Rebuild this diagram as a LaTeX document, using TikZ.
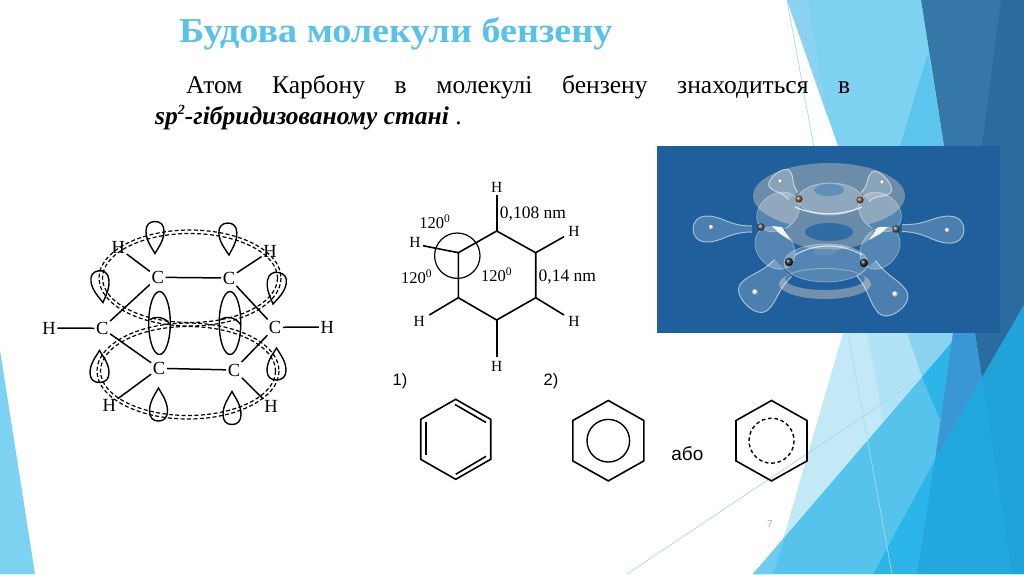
\documentclass[tikz,border=0pt]{standalone}
\usepackage{fontspec}
\setmainfont{Liberation Serif}
\newfontfamily\sansf{Liberation Sans}
\newfontfamily\titlef[FakeStretch=1.09]{Liberation Serif}
\usetikzlibrary{calc}
\definecolor{ttl}{HTML}{5CC1E8}
\definecolor{lightA}{HTML}{7DD2F2}
\definecolor{lightB}{HTML}{8AD2F0}
\definecolor{paleA}{HTML}{C3E9F7}
\definecolor{paleB}{HTML}{B2E2F5}
\definecolor{midA}{HTML}{55C3EC}
\definecolor{midB}{HTML}{2BB5E8}
\definecolor{deepA}{HTML}{22A7DF}
\definecolor{deepB}{HTML}{1D9CCE}
\definecolor{darkA}{HTML}{3578A8}
\definecolor{darkB}{HTML}{2A6C9F}
\definecolor{stripe}{HTML}{3A96D4}
\definecolor{imgbg}{HTML}{1F5F9C}
\definecolor{hairline}{HTML}{A5DCEB}
\definecolor{beige}{HTML}{D8CDBE}
% balloon lobe: base centre (#2,#3), axis angle #4 on the screen, length #5, half width #6, neck half width #7
\newcommand{\balloon}[7][]{%
  \path[#1,shift={(#2,#3)},rotate={-(#4)}]
    (0,#7) .. controls (.4*#5,#7) and (.5*#5,#6) .. (.76*#5,#6)
    .. controls (.92*#5,#6) and (#5,.55*#6) .. (#5,0)
    .. controls (#5,-.55*#6) and (.92*#5,-#6) .. (.76*#5,-#6)
    .. controls (.5*#5,-#6) and (.4*#5,-#7) .. (0,-#7);}
% egg-shaped lobe
\newcommand{\eggdrop}[6][]{%
  \path[#1,shift={(#2,#3)},rotate={-(#4)}]
    (0,0) .. controls (.22*#5,.45*#6) and (.42*#5,#6) .. (.7*#5,#6)
    .. controls (.9*#5,#6) and (#5,.6*#6) .. (#5,0)
    .. controls (#5,-.6*#6) and (.9*#5,-#6) .. (.7*#5,-#6)
    .. controls (.42*#5,-#6) and (.22*#5,-.45*#6) .. (0,0) -- cycle;}
\tikzset{
  bond/.style={line width=1.5pt,black},
  atom/.style={font=\fontsize{18.5}{18.5}\selectfont,inner sep=1.5pt,text=black},
  hlab/.style={font=\fontsize{15.5}{15.5}\selectfont,inner sep=0pt,text=black},
  lab/.style={font=\fontsize{17.5}{17.5}\selectfont,inner sep=0pt,text=black},
  anglab/.style={font=\fontsize{16.5}{16.5}\selectfont,inner sep=0pt,text=black},
  ring/.style={line width=1.2pt,dash pattern=on 4pt off 2.4pt},
  lobe/.style={draw=black,line width=1.4pt},
  hexline/.style={line width=1.6pt,black,line join=miter},
  orb/.style={fill=white,fill opacity=.2,draw=white,draw opacity=.55,line width=1pt},
  ballnode/.style={circle,minimum size=#1,inner sep=0pt},
  sanslab/.style={font=\sansf\fontsize{16.5}{16.5}\selectfont,inner sep=0pt},
}
\begin{document}
\begin{tikzpicture}[x=1pt,y=-1pt]
\useasboundingbox (0,0) rectangle (1024,574);
\fill[white] (0,0) rectangle (1024,574);
% ---------- background ----------
\fill[lightA] (0,350) -- (35,574) -- (0,574) -- cycle;
\fill[lightA] (787,0) -- (921,0) -- (944,146) -- (838,146) -- cycle;
\fill[lightB] (787,0) -- (808,0) -- (827,115) -- cycle;
\fill[midA!85!lightA] (928,53) -- (944,146) -- (900,146) -- cycle;
\fill[darkA] (921,0) -- (1024,0) -- (1024,333) -- (944,333) -- (944,146) -- cycle;
\fill[darkB] (1001,0) -- (1024,0) -- (1024,333) -- (975,333) -- (982,146) -- cycle;
\fill[paleA] (843,333) -- (953,333) -- (953,342) -- (753,574) -- (773,574) -- cycle;
\fill[paleB] (867,333) -- (907,333) -- (922,377) -- (883,420) -- cycle;
\fill[lightB] (907,333) -- (953,333) -- (952,342) -- (922,377) -- cycle;
\fill[midA] (753,574) -- (952,342) -- (953,333) -- (975,333) -- (982,378) -- (873,574) -- cycle;
\fill[lightA!60!midA] (753,574) -- (785,537) -- (773,574) -- cycle;
\fill[midB] (922,377) -- (952,342) -- (953,333) -- (945,400) -- (940,420) -- cycle;
\fill[stripe] (953,333) -- (975,333) -- (982,378) -- (935,460) -- cycle;
\fill[darkB] (975,333) -- (1008,333) -- (982,378) -- cycle;
\fill[midB] (873,574) -- (935,460) -- (982,378) -- (1008,333) -- (1024,305) -- (1024,574) -- cycle;
\fill[deepA] (917,574) -- (935,460) -- (982,378) -- (1012,574) -- cycle;
\fill[deepA!65!deepB] (982,378) -- (1024,305) -- (1024,574) -- (1012,574) -- cycle;
\draw[hairline,line width=.7pt] (787,0) -- (892,574);
\draw[hairline,line width=.7pt] (627,574) -- (922,377);
% ---------- image ----------
\fill[imgbg] (657,146) rectangle (1000,333);
\begin{scope}
\clip (657,146) rectangle (1000,333);
% outer pi clouds
\fill[beige,opacity=.42] (829,196) ellipse (76 and 33);
\fill[beige,opacity=.45,even odd rule] (825,284) ellipse (46 and 15) (825,279) ellipse (40 and 11);
% inner ring
\fill[imgbg!60!beige] (829,232) ellipse (44 and 18);
\fill[imgbg!92!white] (829,232) ellipse (24 and 9);
% six C-C lobes
\foreach \x/\y/\a/\b/\r in {830/199/32/16/0,826/263/42/19/0,778/212/23/18/36,880/212/23/18/-36,775/248/23/18/-51,880/248/23/18/51}
  \path[fill=white,fill opacity=.24,draw=white,draw opacity=.35,line width=.8pt,rotate around={\r:(\x,\y)}] (\x,\y) ellipse (\a pt and \b pt);
\fill[imgbg!70!white] (829,190) ellipse (15 and 6);
\fill[imgbg!70!white] (825,252) ellipse (12 and 3);
\draw[white,opacity=.75,line width=1.3pt] (795,207) .. controls (815,216) and (842,216) .. (862,207);
\draw[white,opacity=.65,line width=1.2pt] (795,255) .. controls (815,243) and (842,243) .. (862,255);
\fill[white,opacity=.9] (772,226) -- (782,227) -- (790,240) -- (780,234) -- cycle;
\fill[white,opacity=.9] (888,227) -- (878,227) -- (869,240) -- (880,234) -- cycle;
% H lobes
\balloon[orb]{793}{196}{232}{28}{13}{6}
\balloon[orb]{865}{197}{-42}{28}{14}{6}
\balloon[orb]{752}{229}{180}{59}{13}{3}
\balloon[orb]{902}{228}{2}{62}{13.5}{3.5}
\balloon[orb]{783}{268}{135}{52}{19}{12}
\balloon[orb]{866}{268}{52}{54}{18}{12}
% atoms
\foreach \n/\x/\y/\r in {a1/780/181/2.4,a2/882/182/2.4,a3/711/227/2.6,a4/947/230/2.6,a5/755/292/3.2,a6/895/294/3.2}
  \node[ballnode=2*\r pt,shade,ball color=white] (\n) at (\x,\y) {};
\foreach \n/\x/\y/\r/\c in {b1/799/199/3.6/brown!70!black,b2/860/200/3.6/brown!70!black,b3/761/227/3.8/black!65,b4/896/229/3.8/black!65,b5/789/262/4.2/black!85,b6/864/263/4.2/black!85}
  \node[ballnode=2*\r pt,shade,ball color=\c] (\n) at (\x,\y) {};
\end{scope}
% ---------- title and text ----------
\node[inner sep=0pt,anchor=base west,text=ttl,font=\titlef\fontsize{35}{35}\selectfont\bfseries] (title) at (179,42) {Будова молекули бензену};
\node[inner sep=0pt,anchor=base west,font=\fontsize{25.5}{25.5}\selectfont] (line1) at (186,93) {\makebox[664pt][s]{Атом\hfill Карбону\hfill в\hfill молекулі\hfill бензену\hfill знаходиться\hfill в}};
\node[inner sep=0pt,anchor=base west,font=\fontsize{25.5}{25.5}\selectfont\bfseries\itshape] (line2) at (155,124) {sp\raisebox{9.5pt}{\fontsize{14}{14}\selectfont 2}-гібридизованому стані {\normalfont .}};
% ---------- left molecule ----------
\foreach \c/\r in {190/278,188/371}{
  \draw[ring] (\c,\r) ellipse (91 and 48);
  \draw[ring] (\c,\r) ellipse (87.5 and 44.5);
}
% lobes
\eggdrop[lobe]{155}{253.5}{-90}{32}{9}
\eggdrop[lobe]{229}{255}{-93}{32}{9}
\eggdrop[lobe]{103}{302.5}{-98}{32}{9}
\eggdrop[lobe]{273}{304}{-80}{32}{9.5}
\eggdrop[lobe]{158.5}{388}{90}{33}{9}
\eggdrop[lobe]{232}{391.5}{90}{33}{9}
\eggdrop[lobe]{99.5}{350.5}{90}{32}{9.5}
\eggdrop[lobe]{276.5}{348}{90}{32}{9.5}
\draw[lobe] (159.5,323) ellipse (10.8 and 31.5);
\draw[lobe] (230,323) ellipse (10.8 and 31.5);
\draw[lobe] (149.5,320) .. controls (155,316) and (165,316) .. (170,325);
\draw[lobe] (220,320) .. controls (225,316) and (235,316) .. (241,325);
\node[atom] (c1) at (157.7,277.3) {C};
\node[atom] (c2) at (229,278) {C};
\node[atom] (c3) at (275,327.3) {C};
\node[atom] (c4) at (234,370) {C};
\node[atom] (c5) at (159,368.3) {C};
\node[atom] (c6) at (102.3,328.3) {C};
\node[atom] (h1) at (118.3,247.7) {H};
\node[atom] (h2) at (270,251) {H};
\node[atom] (h3) at (327.3,327) {H};
\node[atom] (h4) at (271,406.7) {H};
\node[atom] (h5) at (109.3,405) {H};
\node[atom] (h6) at (49,328) {H};
\draw[bond] (c1) -- (c2);
\draw[bond] (c2) -- (c3);
\draw[bond] (c3) -- (c4);
\draw[bond] (c4) -- (c5);
\draw[bond] (c5) -- (c6);
\draw[bond] (c6) -- (c1);
\foreach \a/\b in {c1/h1,c2/h2,c3/h3,c4/h4,c5/h5,c6/h6} \draw[bond] (\a) -- (\b);
% ---------- hexagon with dimensions ----------
\foreach \n/\x/\y in {v1/496.7/231,v2/535.7/252.7,v3/535.7/297.7,v4/496.7/320,v5/458.3/297.7,v6/458.3/252.7}
  \coordinate (\n) at (\x,\y);
\draw[hexline] (v1) -- (v2) -- (v3) -- (v4) -- (v5) -- (v6) -- cycle;
\node[hlab] (t1) at (496.7,187.3) {H};
\node[hlab] (t2) at (574,231.7) {H};
\node[hlab] (t3) at (574,321) {H};
\node[hlab] (t4) at (496.7,366) {H};
\node[hlab] (t5) at (419.3,321) {H};
\node[hlab] (t6) at (415,242.7) {H};
\draw[hexline] (v1) -- ($(t1)+(0,8)$);
\draw[hexline] (v2) -- ($(t2)+(-10,5)$);
\draw[hexline] (v3) -- ($(t3)+(-10,-6)$);
\draw[hexline] (v4) -- ($(t4)+(0,-9)$);
\draw[hexline] (v5) -- ($(t5)+(10,-6)$);
\draw[hexline] (v6) -- ($(t6)+(8,3)$);
\draw[line width=1.2pt] (457.3,255.7) circle (22.7);
\node[anglab] (d1) at (435,221.7) {120\textsuperscript{0}};
\node[anglab] (d2) at (416.7,277) {120\textsuperscript{0}};
\node[anglab] (d3) at (496.7,275) {120\textsuperscript{0}};
\node[lab] (d4) at (533,214) {0,108 nm};
\node[lab] (d5) at (567.3,276.7) {0,14 nm};
% ---------- structural formulas ----------
\node[sanslab] (n1) at (400,381.7) {1)};
\node[sanslab] (n2) at (551,381.7) {2)};
\node[sanslab,font=\sansf\fontsize{19}{19}\selectfont] (abo) at (687.3,453.3) {або};
\coordinate (p1) at (455.7,399.3);\coordinate (p2) at (490.7,419.3);\coordinate (p3) at (490.7,459.3);
\coordinate (p4) at (455.7,479.3);\coordinate (p5) at (420.7,459.3);\coordinate (p6) at (420.7,419.3);
\draw[hexline] (p1) -- (p2) -- (p3) -- (p4) -- (p5) -- (p6) -- cycle;
\draw[hexline] (425.7,422) -- (425.7,455);
\draw[hexline] (455,404.5) -- (486,422.5);
\draw[hexline] (455.7,474.3) -- (486,456.3);
\foreach \n/\cx/\cy in {q/608.3/440.7,r/771.5/440.7}{
  \coordinate (\n c) at (\cx,\cy);
  \draw[hexline] ($(\n c)+(0,-40.2)$) -- ($(\n c)+(35.5,-20.2)$) -- ($(\n c)+(35.5,20.2)$) -- ($(\n c)+(0,40.2)$) -- ($(\n c)+(-35.5,20.2)$) -- ($(\n c)+(-35.5,-20.2)$) -- cycle;
}
\draw[line width=1.4pt] (qc) circle (21.3);
\draw[line width=1.4pt,dash pattern=on 3.6pt off 2.8pt] (rc) circle (22.5);
\node[font=\fontsize{10}{10}\selectfont\sansf,text=black!35,inner sep=0pt] (pg) at (770,524) {7};
\end{tikzpicture}
\end{document}
